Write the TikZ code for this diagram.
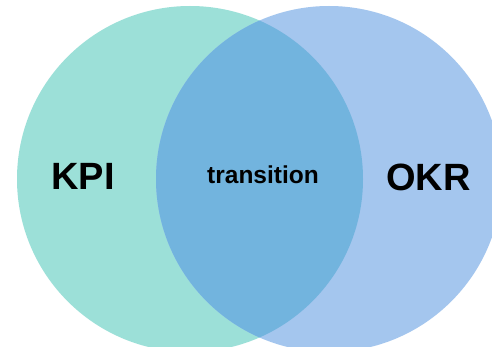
\documentclass[tikz,border=0pt]{standalone}
\usepackage{fontspec}
\setmainfont{Liberation Sans}
\definecolor{kpicol}{RGB}{156,224,216}
\definecolor{okrcol}{RGB}{164,198,238}
\definecolor{midcol}{RGB}{114,180,222}
\begin{document}
\begin{tikzpicture}[x=1pt,y=1pt,
  bigtext/.style={font=\fontsize{38}{40}\selectfont\bfseries, text=black, inner sep=0pt},
  smalltext/.style={font=\fontsize{24.5}{27}\selectfont\bfseries, text=black, inner sep=0pt}]
\useasboundingbox (0,0) rectangle (492,346);
\fill[white] (0,0) rectangle (492,346);
\begin{scope}
\clip (0,0) rectangle (492,346);
\fill[kpicol] (190,167) circle (173);
\fill[okrcol] (329,167) circle (173);
\begin{scope}
\clip (190,167) circle (173);
\fill[midcol] (329,167) circle (173);
\end{scope}
\end{scope}
\node[bigtext] (kpi) at (83,170) {KPI};
\node[bigtext] (okr) at (428.5,169) {OKR};
\node[smalltext] (tr) at (263,171) {transition};
\end{tikzpicture}
\end{document}
